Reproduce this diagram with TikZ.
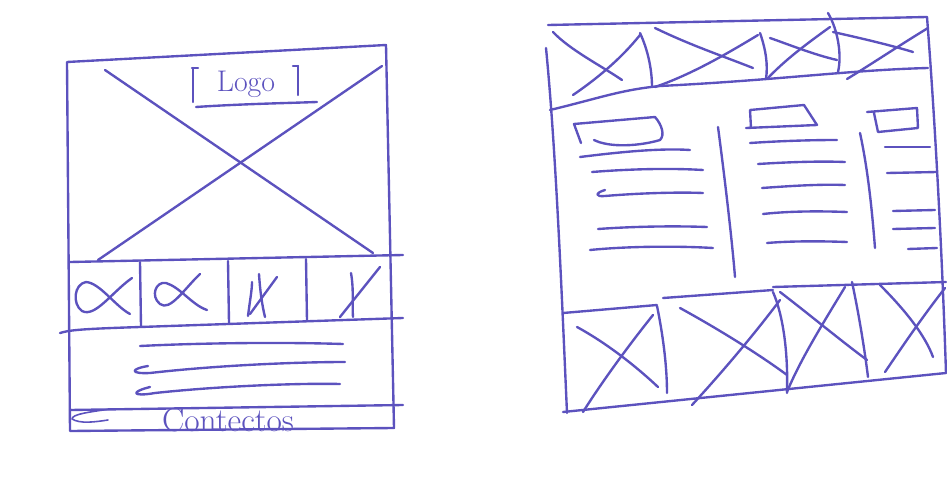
\documentclass[tikz,border=0pt]{standalone}
\usepackage{tikz}
\definecolor{ink}{RGB}{92,82,190}
\begin{document}
\begin{tikzpicture}[x=0.02cm,y=-0.02cm,
  pen/.style={draw=ink,line width=1.35pt,line cap=round,line join=round},
  thin pen/.style={pen,line width=0.9pt}]
\useasboundingbox (0,0) rectangle (947,490);
% Left sketch: frame
\coordinate (LA) at (67,62);
\coordinate (LB) at (386,45);
\coordinate (LC) at (394,428);
\coordinate (LD) at (70,431);
\draw[pen] (LA) -- (LB) -- (LC) -- (LD) -- cycle;

% Logo box
\draw[pen] (193,68) -- (193,102);
\draw[pen] (192,68) -- (198,68);
\draw[pen] (298,66) -- (298,95);
\draw[pen] (293,66) -- (298,66);
\draw[pen] (196,107) .. controls (240,104) and (290,103) .. (317,102);
\node[text=ink,font=\fontsize{17}{17}\selectfont] (logo) at (246,84) {Logo};

% Big picture cross
\draw[pen] (105,70) -- (373,253);
\draw[pen] (382,66) -- (98,260);

% Thumbnail band
\draw[pen] (70,262) -- (403,255);
\draw[pen] (60,333) .. controls (70,330) and (80,329) .. (140,327) -- (403,318);
\draw[pen] (140,262) -- (141,326);
\draw[pen] (228,261) -- (229,323);
\draw[pen] (306,259) -- (307,321);
% Thumbnail glyphs
\draw[pen] (132,278) .. controls (112,292) and (95,318) .. (82,311)
  .. controls (72,304) and (74,284) .. (86,282)
  .. controls (100,283) and (115,306) .. (130,314);
\draw[pen] (200,274) .. controls (185,288) and (170,312) .. (160,304)
  .. controls (150,296) and (156,281) .. (166,283)
  .. controls (180,287) and (192,305) .. (207,310);
\draw[pen] (248,316) .. controls (250,300) and (252,290) .. (252,282);
\draw[pen] (250,314) -- (277,277);
\draw[pen] (259,274) .. controls (260,290) and (262,305) .. (265,317);
\draw[pen] (380,267) -- (340,317);
\draw[pen] (351,273) .. controls (354,290) and (352,305) .. (353,317);

% Text lines
\draw[pen] (140,346) .. controls (200,343) and (280,342) .. (343,344);
\draw[pen] (148,366) .. controls (130,369) and (130,374) .. (150,373)
  .. controls (220,365) and (300,362) .. (345,362);
\draw[pen] (150,387) .. controls (130,392) and (132,397) .. (155,393)
  .. controls (220,386) and (300,383) .. (340,384);

% Footer
\draw[pen] (70,410) -- (403,405);
\draw[thin pen] (110,409) .. controls (90,412) and (72,414) .. (72,419)
  .. controls (80,424) and (95,422) .. (108,420);
\node[text=ink,font=\fontsize{19}{19}\selectfont] (footer) at (228,420) {Contectos};

% Right sketch: frame
\draw[pen] (548,25) -- (927,17);
\draw[pen] (927,17) .. controls (935,120) and (942,250) .. (946,373);
\draw[pen] (546,48) .. controls (556,150) and (562,300) .. (567,413);
\draw[pen] (563,412) -- (946,373);

% Top band
\draw[pen] (550,110) .. controls (600,98) and (620,90) .. (660,86)
  .. controls (780,80) and (850,70) .. (928,68);
\draw[pen] (640,33) .. controls (648,50) and (652,70) .. (652,87);
\draw[pen] (760,33) .. controls (766,50) and (768,65) .. (766,79);
\draw[pen] (828,13) .. controls (838,30) and (842,55) .. (838,72);
\draw[pen] (553,32) .. controls (570,50) and (600,65) .. (622,80);
\draw[pen] (640,35) .. controls (620,60) and (595,80) .. (573,95);
\draw[pen] (655,28) .. controls (690,45) and (720,55) .. (753,68);
\draw[pen] (758,35) .. controls (725,55) and (690,75) .. (655,87);
\draw[pen] (770,38) .. controls (790,45) and (815,55) .. (837,60);
\draw[pen] (830,27) .. controls (805,45) and (785,60) .. (767,79);
\draw[pen] (833,32) .. controls (860,38) and (890,45) .. (913,52);
\draw[pen] (928,28) .. controls (900,45) and (870,65) .. (847,79);

% Column 1
\draw[pen] (581,143) -- (574,124) -- (655,117) .. controls (662,125) and (665,135) .. (660,140)
  .. controls (640,146) and (610,148) .. (594,140);
\draw[pen] (580,157) .. controls (620,152) and (660,148) .. (690,150);
\draw[pen] (592,172) .. controls (630,169) and (670,168) .. (703,170);
\draw[pen] (605,190) .. controls (595,193) and (595,197) .. (605,196)
  .. controls (640,193) and (680,192) .. (703,193);
\draw[pen] (598,229) .. controls (640,226) and (680,226) .. (707,227);
\draw[pen] (590,250) .. controls (630,246) and (680,246) .. (713,248);
\draw[pen] (718,127) .. controls (725,180) and (732,240) .. (735,277);

% Column 2
\draw[pen] (751,128) -- (750,110) -- (804,105) -- (817,125) -- (746,128);
\draw[pen] (750,143) .. controls (780,141) and (810,140) .. (837,140);
\draw[pen] (758,164) .. controls (790,162) and (820,161) .. (845,162);
\draw[pen] (762,188) .. controls (790,186) and (820,184) .. (845,185);
\draw[pen] (763,214) .. controls (790,211) and (820,211) .. (847,212);
\draw[pen] (767,243) .. controls (790,241) and (820,241) .. (847,242);
\draw[pen] (860,133) .. controls (868,170) and (872,210) .. (875,248);

% Column 3
\draw[pen] (867,112) -- (917,108) -- (918,128) -- (878,132) -- (874,113);
\draw[pen] (885,147) -- (930,147);
\draw[pen] (887,173) -- (937,172);
\draw[pen] (893,211) -- (935,210);
\draw[pen] (893,229) -- (935,228);
\draw[pen] (908,249) -- (937,248);

% Bottom band
\draw[pen] (563,313) -- (657,305);
\draw[pen] (663,298) -- (773,290);
\draw[pen] (773,287) -- (946,282);
\draw[pen] (657,306) .. controls (664,340) and (667,370) .. (667,393);
\draw[pen] (773,292) .. controls (785,320) and (788,360) .. (787,393);
\draw[pen] (852,282) .. controls (858,310) and (864,345) .. (868,377);
\draw[pen] (577,327) .. controls (610,345) and (640,370) .. (658,387);
\draw[pen] (653,315) .. controls (625,350) and (600,385) .. (583,412);
\draw[pen] (680,308) .. controls (720,330) and (760,355) .. (787,375);
\draw[pen] (780,300) .. controls (750,340) and (715,380) .. (692,405);
\draw[pen] (780,292) .. controls (810,315) and (840,340) .. (867,360);
\draw[pen] (845,287) .. controls (825,320) and (800,360) .. (787,392);
\draw[pen] (880,285) .. controls (905,310) and (925,335) .. (933,357);
\draw[pen] (945,288) .. controls (920,320) and (900,350) .. (885,372);
\end{tikzpicture}
\end{document}
